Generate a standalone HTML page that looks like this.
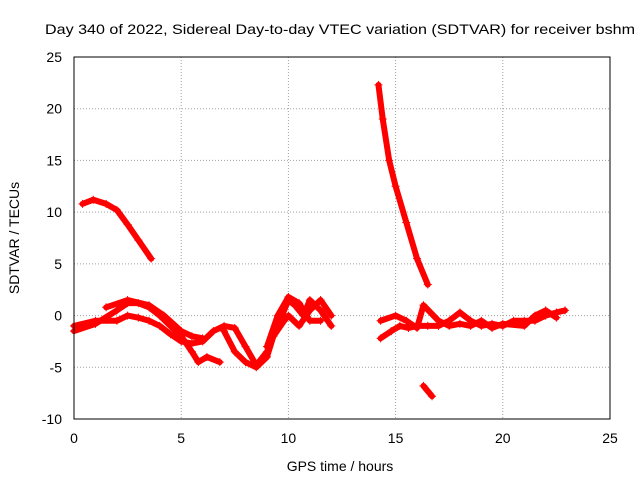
<!DOCTYPE html>
<html><head><meta charset="utf-8"><style>
body{margin:0;background:#fff}
svg{display:block;font-family:"Liberation Sans",sans-serif}
</style></head><body>
<svg id="c" width="640" height="480">
<rect width="640" height="480" fill="#fff"/>
<text x="340" y="34" text-anchor="middle" font-size="14" textLength="590" lengthAdjust="spacingAndGlyphs">Day 340 of 2022, Sidereal Day-to-day VTEC variation (SDTVAR) for receiver bshm</text>
<text x="340" y="471" text-anchor="middle" font-size="14">GPS time / hours</text>
<text transform="translate(19,238) rotate(-90)" text-anchor="middle" font-size="14">SDTVAR / TECUs</text>
<g id="grid"></g><g id="marks"></g>
<rect x="74" y="57" width="536" height="362" fill="none" stroke="#000"/>
</svg>
<script>
const xTicks=[0,5,10,15,20,25];
const yTicks=[-10,-5,0,5,10,15,20,25];
const trackA=[[0,-1.5],[1,-0.8],[2,0.5],[2.5,1.2],[3,1.2],[3.5,0.8],[4,0],[4.5,-1],[5,-2],[5.5,-3.5],[5.8,-4.5],[6.2,-4],[6.8,-4.5]];
const trackB=[[0,-1],[1,-0.5],[2,-0.5],[2.5,0],[3,-0.2],[3.5,-0.5],[4,-1],[4.5,-1.8],[5,-2.5],[5.5,-2.7],[6,-2.5],[6.5,-1.5],[7,-1],[7.5,-1.2],[8,-3],[8.5,-4.8],[9,-3.5],[9.5,-1],[10,1.5],[10.3,1],[10.7,0],[11,1.5],[11.5,0.5],[12,-1]];
const trackC=[[1.5,0.8],[2.5,1.5],[3.5,1],[4.2,0],[5,-1.5],[5.5,-2],[6,-2.2]];
const trackD=[[7,-1.5],[7.5,-3.5],[8,-4.5],[8.5,-5],[9,-4],[9.3,-2],[9.8,-0.5],[10,0],[10.5,-1],[11,0.5],[11.5,1.5],[12,0]];
const trackE=[[9,-3],[9.5,0],[10,1.8],[10.5,1.2],[11,-0.5],[11.5,-0.5]];
const trackTop=[[0.4,10.8],[0.9,11.2],[1.5,10.8],[2,10.2],[2.5,8.8],[3,7.3],[3.6,5.5]];
const trackDrop=[[14.2,22.3],[14.4,19],[14.7,15],[15,12.5],[15.5,9],[16,5.5],[16.5,3]];
const trackLow=[[16.3,-6.8],[16.7,-7.8]];
const trackF=[[14.3,-2.2],[14.8,-1.5],[15.2,-1],[15.6,-1.2],[16,-1],[16.5,-1],[17,-1],[17.5,-0.5],[18,0.3],[18.5,-0.5],[19,-1],[19.5,-0.8],[20,-1],[20.5,-0.5],[21,-0.5],[21.5,-0.5],[22,0],[22.5,0.3],[22.9,0.5]];
const trackG=[[14.3,-0.5],[15,0],[15.5,-0.5],[16,-1.2],[16.3,1],[17,-0.5],[17.5,-1],[18,-0.8],[18.5,-1],[19,-0.5],[19.5,-1.2],[20,-0.8],[21,-1],[21.5,0],[22,0.5],[22.5,-0.2]];
const tracks=[trackA,trackB,trackC,trackD,trackE,trackTop,trackDrop,trackLow,trackF,trackG];
const NS="http://www.w3.org/2000/svg";
const X=v=>74+v*536/25, Y=v=>419-(v+10)*362/35;
const g=document.getElementById('grid'),m=document.getElementById('marks');
function mk(t,a,p){const e=document.createElementNS(NS,t);for(const k in a)e.setAttribute(k,a[k]);p.appendChild(e);return e;}
xTicks.forEach(t=>{
 const l=mk('line',{x1:X(t),x2:X(t),y1:57,y2:419,stroke:'#a0a0a0','stroke-dasharray':'1,2'},g);
 
 
 const tx=mk('text',{x:X(t),y:443,'text-anchor':'middle','font-size':14},g);tx.textContent=t;
 
 
});
yTicks.forEach(t=>{
 const l=mk('line',{x1:74,x2:610,y1:Y(t),y2:Y(t),stroke:'#a0a0a0','stroke-dasharray':'1,2'},g);
 
 
 const tx=mk('text',{x:62,y:Y(t)+5,'text-anchor':'end','font-size':14},g);tx.textContent=t;
 
 
});
tracks.forEach(tr=>{
 const pl=mk('polyline',{points:tr.map(p=>X(p[0])+','+Y(p[1])).join(' '),fill:'none',stroke:'#f00','stroke-width':6,'stroke-linejoin':'round','stroke-linecap':'round'},m);
 
 
 tr.forEach(p=>{
  const x=X(p[0]),y=Y(p[1]);
  const pm=mk('path',{d:`M${x-4},${y}H${x+4}M${x},${y-4}V${y+4}`,stroke:'#f00','stroke-width':1},m);
  
  
 });
});
</script>
</body></html>
